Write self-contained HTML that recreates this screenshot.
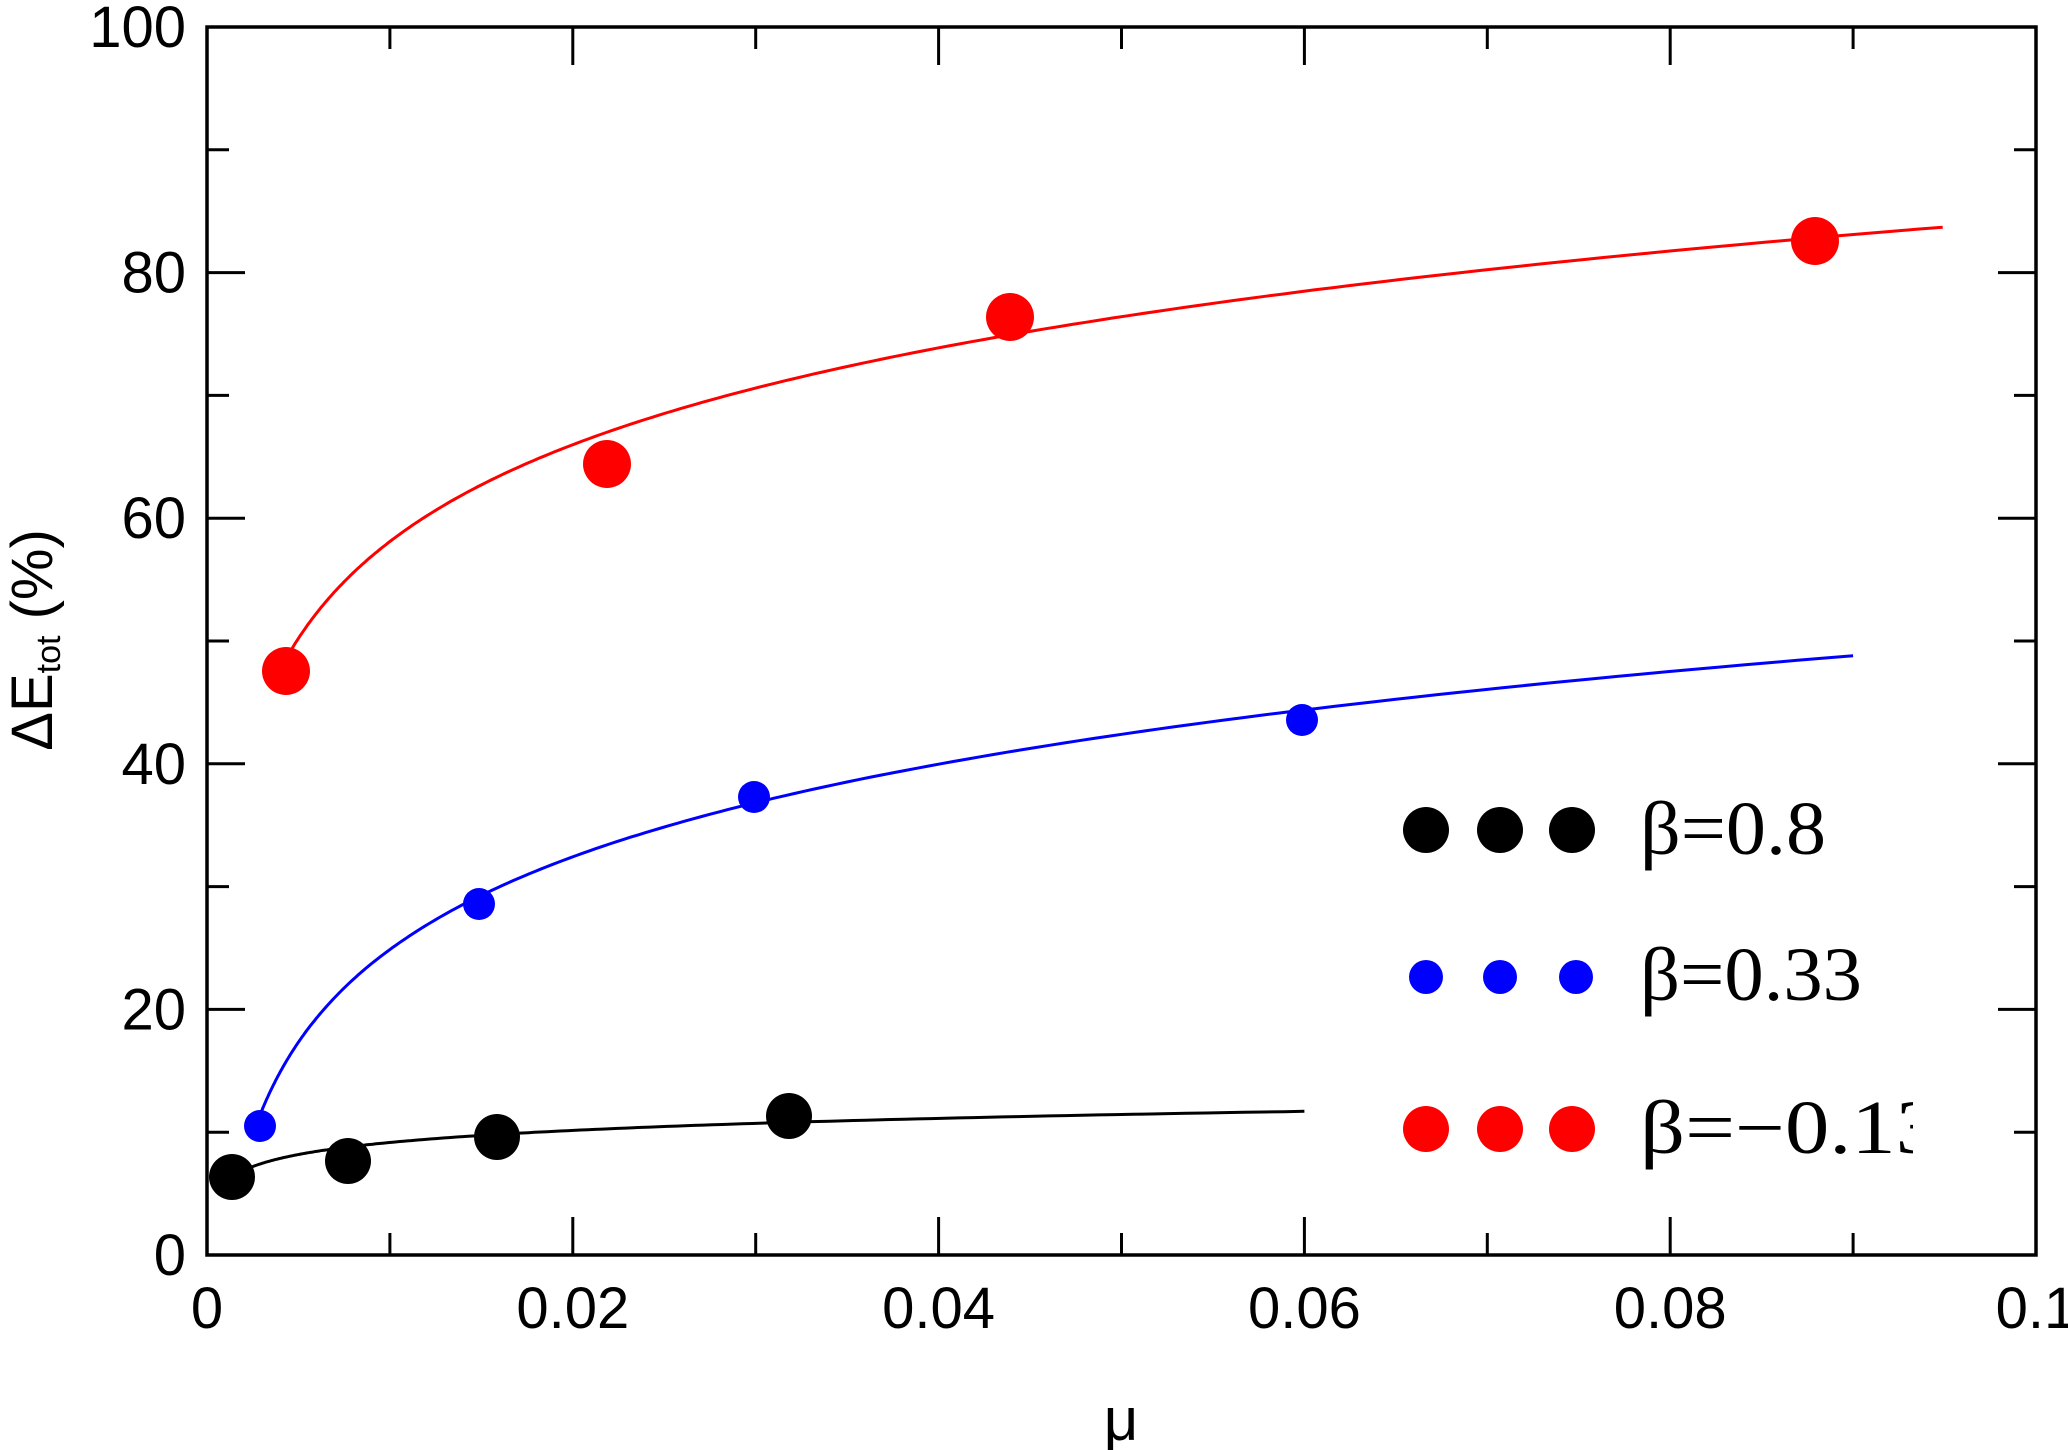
<!DOCTYPE html>
<html><head><meta charset="utf-8"><style>html,body{margin:0;padding:0;background:#fff}svg{display:block}</style></head>
<body>
<svg id="s" width="2068" height="1450" xmlns="http://www.w3.org/2000/svg" font-family="Liberation Sans, sans-serif">
<g id="curves" fill="none" stroke-width="3"></g>
<g id="axes" stroke="#000" stroke-width="3.5" fill="none">
<rect x="207" y="27" width="1829" height="1228"/>
</g>
<g id="ticks" stroke="#000" stroke-width="3"></g>
<g id="labels" font-size="58" fill="#000"></g>
<g id="pts"></g>
<text x="1121" y="1440" font-size="60" text-anchor="middle">μ</text>
<text transform="translate(52,640) rotate(-90)" font-size="58" text-anchor="middle">ΔE<tspan font-size="34" dy="8">tot</tspan><tspan dy="-8">    (%)</tspan></text>
<g font-family="Liberation Serif, serif" font-size="76" fill="#000">
<circle cx="1426" cy="830" r="23" fill="#000"/><circle cx="1500" cy="830" r="23" fill="#000"/><circle cx="1572" cy="830" r="23" fill="#000"/>
<circle cx="1426" cy="977" r="17" fill="#00f"/><circle cx="1500" cy="977" r="17" fill="#00f"/><circle cx="1576" cy="977" r="17" fill="#00f"/>
<circle cx="1426" cy="1129" r="23" fill="#f00"/><circle cx="1500" cy="1129" r="23" fill="#f00"/><circle cx="1572" cy="1129" r="23" fill="#f00"/>
<text x="1640" y="854" textLength="186" lengthAdjust="spacingAndGlyphs">β=0.8</text>
<text x="1640" y="1000" textLength="222" lengthAdjust="spacingAndGlyphs">β=0.33</text>
<svg x="1600" y="1050" width="313" height="130"><text x="40" y="103" textLength="300" lengthAdjust="spacingAndGlyphs">β=−0.13</text></svg>
</g>
</svg>
<script>
const X=v=>207+v*18290, Y=v=>1255-v*12.28, NS="http://www.w3.org/2000/svg";
function el(p,t,a){const e=document.createElementNS(NS,t);for(const k in a)e.setAttribute(k,a[k]);document.getElementById(p).appendChild(e);return e;}
for(let i=0;i<=10;i++){const x=X(i*0.01),L=i%2?22:38;
 el('ticks','line',{x1:x,y1:1255,x2:x,y2:1255-L});el('ticks','line',{x1:x,y1:27,x2:x,y2:27+L});}
for(let i=0;i<=10;i++){const y=Y(i*10),L=i%2?22:38;
 el('ticks','line',{x1:207,y1:y,x2:207+L,y2:y});el('ticks','line',{x1:2036,y1:y,x2:2036-L,y2:y});}
for(let i=0;i<=5;i++){const t=el('labels','text',{x:X(i*0.02),y:1328,'text-anchor':'middle'});t.textContent=i==0?'0':i==5?'0.1':(i*0.02).toFixed(2);}
for(let i=0;i<=5;i++){const t=el('labels','text',{x:186,y:Y(i*20)+20,'text-anchor':'end'});t.textContent=i*20;}
function curve(x0,y0,x1,y1,col){const b=(y1-y0)/Math.log(x1/x0);let d='';
 for(let k=0;k<=200;k++){const x=x0*Math.pow(x1/x0,k/200);d+=(k?'L':'M')+X(x).toFixed(1)+','+Y(y0+b*Math.log(x/x0)).toFixed(1);}
 el('curves','path',{d:d,stroke:col});}
curve(0.0043,48.5,0.0949,83.7,'#f00');
curve(0.0029,11.4,0.090,48.8,'#00f');
curve(0.00137,6.35,0.060,11.7,'#000');
const P=[[286,671,24,'#f00'],[607,464,24,'#f00'],[1010,317,24,'#f00'],[1815,241,24,'#f00'],
[260,1126,16,'#00f'],[479,904,16,'#00f'],[754,797,16,'#00f'],[1302,720,16,'#00f'],
[232,1177,23,'#000'],[348,1161,23,'#000'],[497,1137,23,'#000'],[789,1116,23,'#000']];
P.forEach(p=>el('pts','circle',{cx:p[0],cy:p[1],r:p[2],fill:p[3]}));
</script>
</body></html>
